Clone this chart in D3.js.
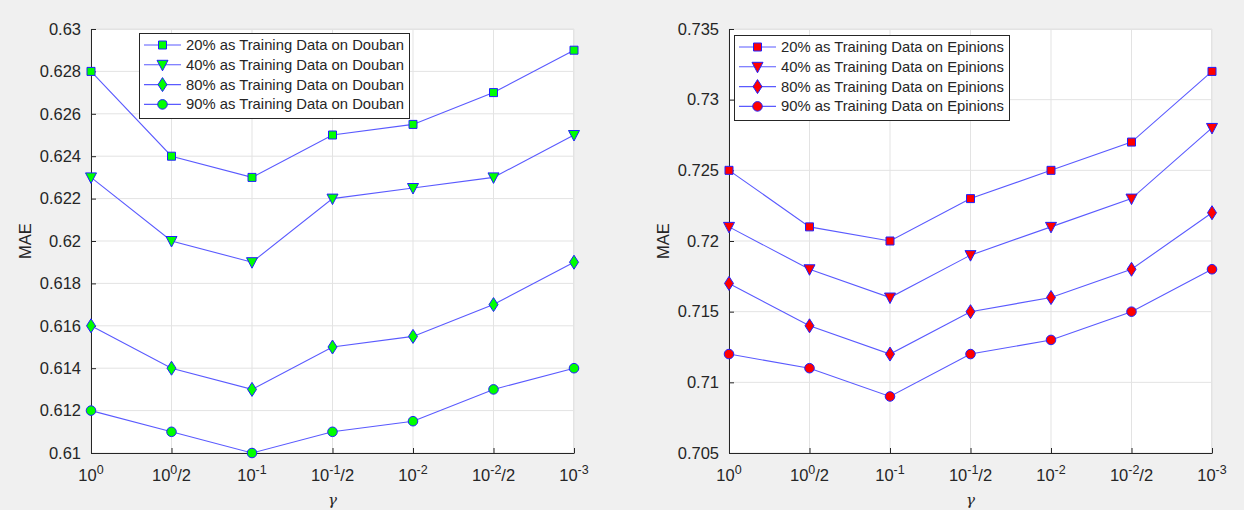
<!DOCTYPE html>
<html>
<head>
<meta charset="utf-8">
<script src="https://cdn.jsdelivr.net/npm/d3@7"></script>
<style>
  html, body { margin: 0; padding: 0; background: #f0f0f0; }
  svg { display: block; font-family: "Liberation Sans", Arial, Helvetica, sans-serif; }
</style>
</head>
<body>
<svg id="chart" width="1244" height="510"></svg>
<script>
// x positions: gamma values (base, exponent, divided by 2)
const gammaBase = ["10", "10", "10", "10", "10", "10", "10"];
const gammaExp = ["0", "0", "-1", "-1", "-2", "-2", "-3"];
const gammaSuffix = ["", "/2", "", "/2", "", "/2", ""];

// Douban MAE
const doubanNames = [
  "20% as Training Data on Douban",
  "40% as Training Data on Douban",
  "80% as Training Data on Douban",
  "90% as Training Data on Douban"
];
const douban20 = [0.628, 0.624, 0.623, 0.625, 0.6255, 0.627, 0.629];
const douban40 = [0.623, 0.620, 0.619, 0.622, 0.6225, 0.623, 0.625];
const douban80 = [0.616, 0.614, 0.613, 0.615, 0.6155, 0.617, 0.619];
const douban90 = [0.612, 0.611, 0.610, 0.611, 0.6115, 0.613, 0.614];
const doubanTicks = [0.61, 0.612, 0.614, 0.616, 0.618, 0.62, 0.622, 0.624, 0.626, 0.628, 0.63];
const doubanTickLabels = ["0.61", "0.612", "0.614", "0.616", "0.618", "0.62", "0.622", "0.624", "0.626", "0.628", "0.63"];

// Epinions MAE
const epinionsNames = [
  "20% as Training Data on Epinions",
  "40% as Training Data on Epinions",
  "80% as Training Data on Epinions",
  "90% as Training Data on Epinions"
];
const epinions20 = [0.725, 0.721, 0.720, 0.723, 0.725, 0.727, 0.732];
const epinions40 = [0.721, 0.718, 0.716, 0.719, 0.721, 0.723, 0.728];
const epinions80 = [0.717, 0.714, 0.712, 0.715, 0.716, 0.718, 0.722];
const epinions90 = [0.712, 0.711, 0.709, 0.712, 0.713, 0.715, 0.718];
const epinionsTicks = [0.705, 0.71, 0.715, 0.72, 0.725, 0.73, 0.735];
const epinionsTickLabels = ["0.705", "0.71", "0.715", "0.72", "0.725", "0.73", "0.735"];

const markerShapes = ["square", "triangleDown", "diamond", "circle"];

const svg = d3.select("#chart");
const textColor = "#262626";
const lineColor = "#5a5aff";
const edgeColor = "#2020ff";

function drawMarker(g, shape, x, y, fill) {
  let d;
  if (shape === "square") d = d3.symbol(d3.symbolSquare, 64)();
  else if (shape === "circle") d = d3.symbol(d3.symbolCircle, 72)();
  else if (shape === "diamond") d = "M0,-7L4.5,0L0,7L-4.5,0Z";
  else d = "M-5.5,-4.5L5.5,-4.5L0,6Z";
  g.append("path").attr("d", d)
    .attr("transform", `translate(${x},${y})`)
    .attr("fill", fill)
    .attr("stroke", edgeColor)
    .attr("stroke-width", 1);
}

function panel(opts) {
  const { left, right, top, bottom, domain, ticks, tickLabels, series, names, fill, legend } = opts;
  const g = svg.append("g");
  const x = d3.scalePoint().domain(d3.range(gammaBase.length)).range([left, right]);
  const y = d3.scaleLinear().domain(domain).range([bottom, top]);

  // plot background
  g.append("rect").attr("x", left).attr("y", top)
    .attr("width", right - left).attr("height", bottom - top)
    .attr("fill", "#ffffff");

  // grid lines
  g.append("g").selectAll("line").data(x.domain()).join("line")
    .attr("x1", d => x(d)).attr("x2", d => x(d))
    .attr("y1", top).attr("y2", bottom)
    .attr("stroke", "#e3e3e3").attr("stroke-width", 1);
  g.append("g").selectAll("line").data(ticks).join("line")
    .attr("x1", left).attr("x2", right)
    .attr("y1", d => y(d)).attr("y2", d => y(d))
    .attr("stroke", "#e3e3e3").attr("stroke-width", 1);
  // light outer edges on top and right
  g.append("path")
    .attr("d", `M${left},${top + 0.5}H${right - 0.5}V${bottom}`)
    .attr("fill", "none").attr("stroke", "#e3e3e3");

  // y axis
  const yAxis = d3.axisLeft(y).tickValues(ticks)
    .tickFormat((d, i) => tickLabels[i]).tickSizeInner(-5).tickSizeOuter(0).tickPadding(10);
  const ya = g.append("g").attr("transform", `translate(${left},0)`).call(yAxis);
  ya.select(".domain").attr("stroke", "#262626");
  ya.selectAll(".tick line").attr("stroke", "#262626");
  ya.selectAll(".tick text").attr("fill", textColor).attr("font-size", 16.5)
    .attr("font-family", "Liberation Sans, Arial, sans-serif");

  // x axis
  const xAxis = d3.axisBottom(x).tickSizeInner(-5).tickSizeOuter(0).tickFormat("");
  const xa = g.append("g").attr("transform", `translate(0,${bottom})`).call(xAxis);
  xa.select(".domain").attr("stroke", "#262626");
  xa.selectAll(".tick line").attr("stroke", "#262626");
  x.domain().forEach(i => {
    const t = g.append("text").attr("x", x(i)).attr("y", bottom + 28)
      .attr("text-anchor", "middle").attr("fill", textColor).attr("font-size", 16.5);
    t.append("tspan").text(gammaBase[i]);
    t.append("tspan").attr("dy", -7).attr("font-size", 12.5).text(gammaExp[i]);
    if (gammaSuffix[i]) t.append("tspan").attr("dy", 7).text(gammaSuffix[i]);
  });

  // axis titles
  g.append("text").attr("x", (left + right) / 2).attr("y", bottom + 52)
    .attr("text-anchor", "middle").attr("fill", textColor)
    .attr("font-family", "DejaVu Serif, Liberation Serif, serif")
    .attr("font-style", "italic").attr("font-size", 15).text("γ");
  g.append("text")
    .attr("transform", `translate(${left - 60},${(top + bottom) / 2}) rotate(-90)`)
    .attr("text-anchor", "middle").attr("fill", textColor).attr("font-size", 16.5).text("MAE");

  // series
  const lineGen = d3.line().x((d, i) => x(i)).y(d => y(d));
  series.forEach(s => {
    g.append("path").datum(s).attr("d", lineGen)
      .attr("fill", "none").attr("stroke", lineColor).attr("stroke-width", 1.1);
  });
  series.forEach((s, k) => {
    s.forEach((v, i) => drawMarker(g, markerShapes[k], x(i), y(v), fill));
  });

  // legend
  const lg = g.append("g");
  lg.append("rect").attr("x", legend.x + 0.5).attr("y", legend.y + 0.5)
    .attr("width", legend.w).attr("height", legend.h)
    .attr("fill", "#ffffff").attr("stroke", "#262626").attr("stroke-width", 1);
  names.forEach((name, k) => {
    const ry = legend.y + 12 + k * 19.8;
    lg.append("line").attr("x1", legend.x + 5).attr("x2", legend.x + 42)
      .attr("y1", ry).attr("y2", ry).attr("stroke", lineColor).attr("stroke-width", 1.1);
    drawMarker(lg, markerShapes[k], legend.x + 23.5, ry, fill);
    lg.append("text").attr("x", legend.x + 47).attr("y", ry + 5)
      .attr("fill", textColor).attr("font-size", 14.8).text(name);
  });
}

panel({
  left: 91, right: 574, top: 29, bottom: 453,
  domain: [0.61, 0.63], ticks: doubanTicks, tickLabels: doubanTickLabels,
  series: [douban20, douban40, douban80, douban90], names: doubanNames,
  fill: "#00ff00",
  legend: { x: 139, y: 33, w: 270, h: 85 }
});

panel({
  left: 729, right: 1212, top: 29, bottom: 453,
  domain: [0.705, 0.735], ticks: epinionsTicks, tickLabels: epinionsTickLabels,
  series: [epinions20, epinions40, epinions80, epinions90], names: epinionsNames,
  fill: "#ff0000",
  legend: { x: 734, y: 35, w: 275, h: 85 }
});
</script>
</body>
</html>
